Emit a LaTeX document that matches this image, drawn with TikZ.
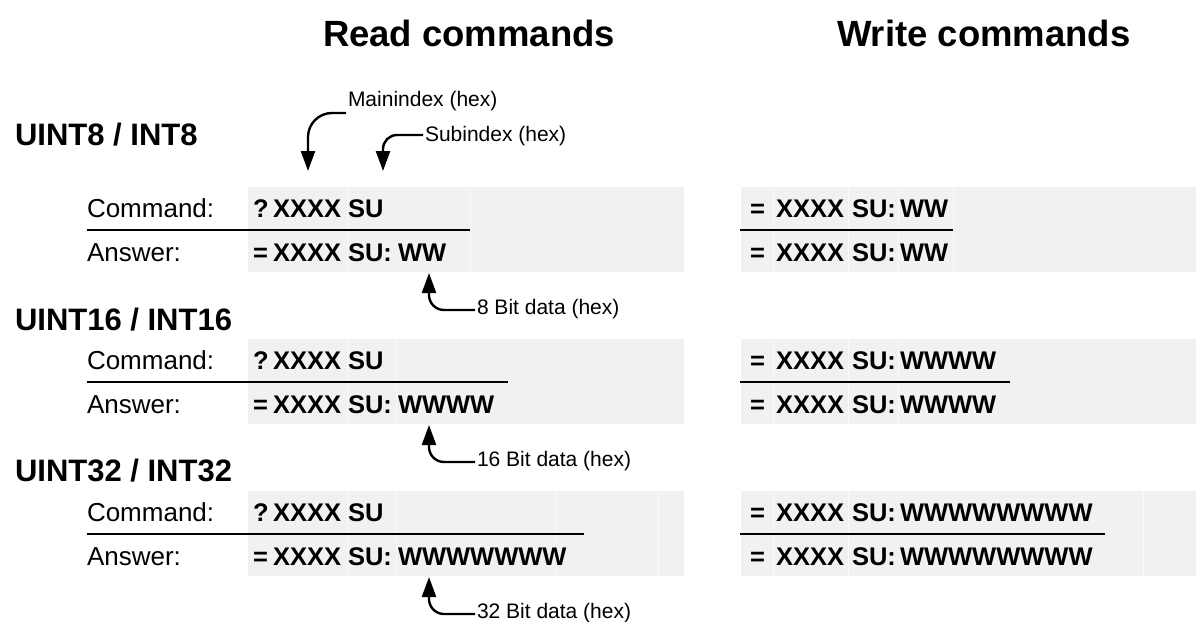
\documentclass[tikz,border=0pt]{standalone}
\usepackage{fontspec}
\setmainfont{Liberation Sans}
\usetikzlibrary{arrows.meta}
\definecolor{cellgrey}{RGB}{241,241,241}
\definecolor{cellline}{RGB}{249,249,249}
\tikzset{
  every node/.style={inner sep=0pt, outer sep=0pt, anchor=base west},
  title/.style={font=\bfseries\fontsize{36.5}{40}\selectfont},
  heading/.style={font=\bfseries\fontsize{31}{34}\selectfont},
  rowlabel/.style={font=\fontsize{26}{30}\selectfont},
  code/.style={font=\bfseries\fontsize{25.5}{30}\selectfont},
  note/.style={font=\fontsize{21}{25}\selectfont},
  rule/.style={line width=2.6pt},
  callout/.style={line width=2.4pt, -{Triangle[width=14pt,length=20pt]}},
  cellsep/.style={cellline, line width=0.8pt},
}
\begin{document}
\begin{tikzpicture}[x=1pt,y=-1pt]
\useasboundingbox (0,0) rectangle (1196,621);

% column titles
\node[title] (readtitle)  at (323,46) {Read commands};
\node[title] (writetitle) at (837,46) {Write commands};

% data type headings
\node[heading] (h8)  at (15,145) {UINT8 / INT8};
\node[heading] (h16) at (15,330) {UINT16 / INT16};
\node[heading] (h32) at (15,481) {UINT32 / INT32};

% one block per data type
\foreach \g/\dy/\rdata/\wdata/\rend/\wend/\bits/\rsep/\wsep in {
  1/0/WW/WW/470/953/8/{347,470}/{773,848,898,953},
  2/152/WWWW/WWWW/508/1010/16/{347,396}/{773,848,898},
  3/304/WWWWWWW/WWWWWWWW/584/1105/32/{347,396,556,658}/{773,848,1143}}{
\begin{scope}[yshift=-\dy pt]
  % shaded cells
  \fill[cellgrey] (248,187) rectangle (684,272);
  \fill[cellgrey] (741,187) rectangle (1196,272);
  \foreach \s in \rsep { \draw[cellsep] (\s,187) -- (\s,272); }
  \foreach \s in \wsep { \draw[cellsep] (\s,187) -- (\s,272); }

  % row labels
  \node[rowlabel] (cmd\g) at (87,217) {Command:};
  \node[rowlabel] (ans\g) at (87,261) {Answer:};

  % rules between command and answer
  \draw[rule] (87,230) -- (\rend,230);
  \draw[rule] (740,230) -- (\wend,230);

  % read command / answer
  \node[code] (rq\g)  at (253,217) {?};
  \node[code] (rqx\g) at (273,217) {XXXX};
  \node[code] (rqs\g) at (348,217) {SU};
  \node[code] (ra\g)  at (253,261) {=};
  \node[code] (rax\g) at (273,261) {XXXX};
  \node[code] (ras\g) at (348,261) {SU:};
  \node[code] (raw\g) at (398,261) {\rdata};

  % write command / answer
  \node[code] (wq\g)  at (750,217) {=};
  \node[code] (wqx\g) at (776,217) {XXXX};
  \node[code] (wqs\g) at (852,217) {SU:};
  \node[code] (wqw\g) at (900,217) {\wdata};
  \node[code] (wa\g)  at (750,261) {=};
  \node[code] (wax\g) at (776,261) {XXXX};
  \node[code] (was\g) at (852,261) {SU:};
  \node[code] (waw\g) at (900,261) {\wdata};

  % data field callout
  \coordinate (tip\g) at (429,273);
  \node[note] (bits\g) at (477,314) {\bits\ Bit data (hex)};
  \draw[callout, rounded corners=15pt] ([xshift=-2pt,yshift=4pt]bits\g.base west) -| (tip\g);
\end{scope}
}

% index callouts
\node[note] (mainlbl) at (348,106) {Mainindex (hex)};
\node[note] (sublbl)  at (425,141) {Subindex (hex)};
\coordinate (mtip) at (308,171);
\coordinate (stip) at (383,171);
\draw[callout, rounded corners=24pt] ([xshift=-2pt,yshift=-7pt]mainlbl.base west) -| (mtip);
\draw[callout, rounded corners=14pt] ([xshift=-2pt,yshift=6pt]sublbl.base west) -| (stip);
\end{tikzpicture}
\end{document}
